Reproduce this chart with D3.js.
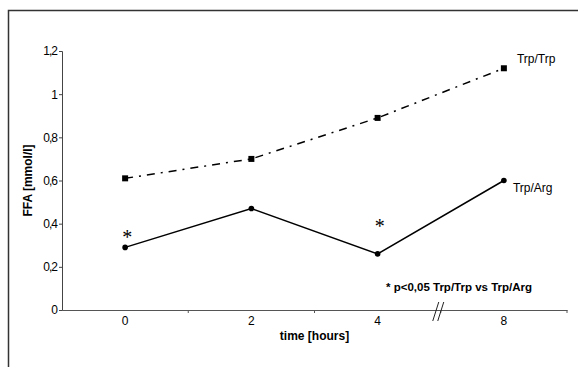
<!DOCTYPE html>
<html>
<head>
<meta charset="utf-8">
<script src="https://cdn.jsdelivr.net/npm/d3@7"></script>
<style>
  body { margin: 0; background: #fff; }
  svg { display: block; font-family: "Liberation Sans", Arial, sans-serif; }
</style>
</head>
<body>
<div id="chart"></div>
<script>
const times = ["0", "2", "4", "8"];
const trpTrp = [0.61, 0.70, 0.89, 1.12];
const trpArg = [0.29, 0.47, 0.26, 0.60];
const yTicks = [0, 0.2, 0.4, 0.6, 0.8, 1, 1.2];
const starAt = ["0", "4"];

const width = 578;
const height = 367;
const margin = ({top: 51, right: 11, bottom: 57, left: 62});

const x = d3.scaleBand()
  .domain(times)
  .range([margin.left, width - margin.right])
  .padding(0);
const y = d3.scaleLinear()
  .domain([0, 1.2])
  .range([height - margin.bottom, margin.top]);

const svg = d3.select("#chart").append("svg")
  .attr("width", width)
  .attr("height", height);

// outer frame (only top and left visible)
svg.append("path")
  .attr("d", `M8.5,${height}V10.5H${width}`)
  .attr("fill", "none")
  .attr("stroke", "#333")
  .attr("stroke-width", 1.5);

const xAxis = g => g
  .attr("transform", `translate(0,${y(0)})`)
  .call(d3.axisBottom(x).tickSize(0).tickPadding(6))
  .call(g => g.select(".domain").attr("stroke", "#555"))
  .call(g => g.selectAll(".tick text")
      .attr("font-size", 12)
      .attr("fill", "#000"))
  .call(g => g.selectAll(".sep")
    .data(times.slice(1).concat(["end"]))
    .join("line")
      .attr("class", "sep")
      .attr("x1", (d, i) => i < times.length - 1 ? x(d) : x.range()[1])
      .attr("x2", (d, i) => i < times.length - 1 ? x(d) : x.range()[1])
      .attr("y1", 0)
      .attr("y2", 3)
      .attr("stroke", "#555"))

const yAxis = g => g
  .attr("transform", `translate(${margin.left},0)`)
  .call(d3.axisLeft(y).tickValues(yTicks).tickSize(3).tickPadding(2)
      .tickFormat(d => String(d).replace(".", ",")))
  .call(g => g.select(".domain").attr("stroke", "#444"))
  .call(g => g.selectAll(".tick line").attr("stroke", "#444"))
  .call(g => g.selectAll(".tick text")
      .attr("font-size", 12)
      .attr("letter-spacing", "-1px")
      .attr("fill", "#000"))

svg.append("g").call(xAxis);
svg.append("g").call(yAxis);

// axis break between 4 and 8
const bx = x("8") - 2;
svg.append("g")
  .attr("stroke", "#222")
  .attr("stroke-width", 1)
  .selectAll("line")
  .data([-3, 2])
  .join("line")
    .attr("x1", d => bx + d - 3)
    .attr("x2", d => bx + d + 3)
    .attr("y1", y(0) + 11)
    .attr("y2", y(0) - 8);

// axis titles
svg.append("text")
  .attr("x", (margin.left + width - margin.right) / 2)
  .attr("y", 340)
  .attr("text-anchor", "middle")
  .attr("font-size", 12)
  .attr("font-weight", "bold")
  .text("time [hours]");

svg.append("text")
  .attr("transform", `translate(32,${(y(0) + y(1.2)) / 2}) rotate(-90)`)
  .attr("text-anchor", "middle")
  .attr("font-size", 12)
  .attr("font-weight", "bold")
  .text("FFA [mmol/l]");

const cx = d => x(d) + x.bandwidth() / 2;
const line = d3.line()
  .x(d => cx(d.t))
  .y(d => y(d.v));

const trpTrpData = times.map((t, i) => ({t, v: trpTrp[i]}));
const trpArgData = times.map((t, i) => ({t, v: trpArg[i]}));

svg.append("path")
  .datum(trpTrpData)
  .attr("fill", "none")
  .attr("stroke", "#000")
  .attr("stroke-width", 1.5)
  .attr("stroke-dasharray", "8,6,2,6")
  .attr("d", line);

svg.append("path")
  .datum(trpArgData)
  .attr("fill", "none")
  .attr("stroke", "#000")
  .attr("stroke-width", 1.5)
  .attr("d", line);

svg.append("g")
  .selectAll("rect")
  .data(trpTrpData)
  .join("rect")
    .attr("x", d => cx(d.t) - 3)
    .attr("y", d => y(d.v) - 3)
    .attr("width", 6)
    .attr("height", 6)
    .attr("fill", "#000");

svg.append("g")
  .selectAll("circle")
  .data(trpArgData)
  .join("circle")
    .attr("cx", d => cx(d.t))
    .attr("cy", d => y(d.v))
    .attr("r", 2.8)
    .attr("fill", "#000");

// series labels
svg.append("text")
  .attr("x", cx("8") + 13)
  .attr("y", y(trpTrp[3]) - 5)
  .attr("font-size", 12)
  .attr("fill", "#000")
  .text("Trp/Trp");

svg.append("text")
  .attr("x", cx("8") + 9)
  .attr("y", y(trpArg[3]) + 11)
  .attr("font-size", 12)
  .attr("fill", "#000")
  .text("Trp/Arg");

// significance stars
svg.append("g")
  .selectAll("text")
  .data(starAt)
  .join("text")
    .attr("x", d => cx(d) + 2)
    .attr("y", d => y(trpArg[times.indexOf(d)]) - (d === "0" ? 3 : 21))
    .attr("text-anchor", "middle")
    .attr("font-family", "'Liberation Serif', 'Times New Roman', serif")
    .attr("font-size", 20)
    .attr("fill", "#000")
    .text("*");

svg.append("text")
  .attr("x", 386)
  .attr("y", 291)
  .attr("font-size", 11.5)
  .attr("font-weight", "bold")
  .attr("fill", "#000")
  .text("* p<0,05 Trp/Trp vs Trp/Arg");
</script>
</body>
</html>
